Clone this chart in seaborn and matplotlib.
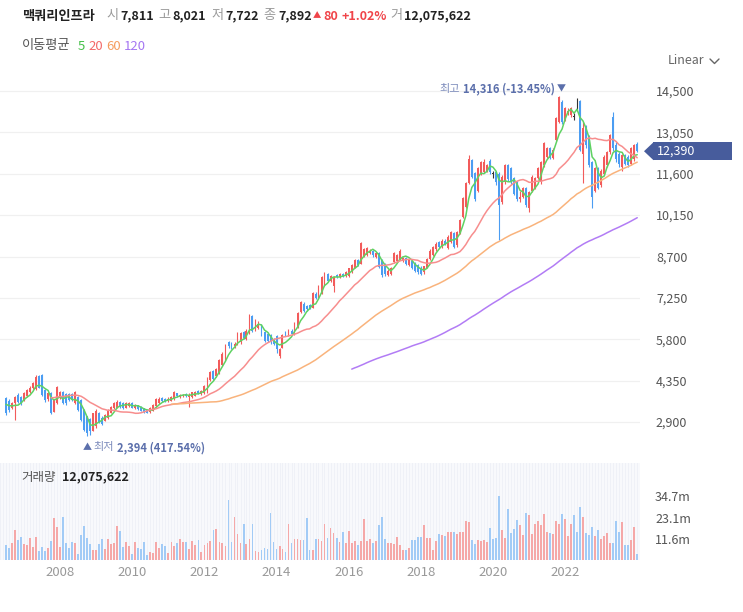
import numpy as np
import pandas as pd
import seaborn as sns
import matplotlib.pyplot as plt
import matplotlib.dates as mdates
import matplotlib.transforms as mtransforms
from matplotlib.patches import Rectangle, Polygon
from matplotlib.lines import Line2D

# monthly candles, Mar 2006 .. Jan 2024 (first four months only feed the moving averages)
opens = [
    3600, 3550, 3600, 3700, 3740, 3650, 3390, 3560, 3850, 3780,                      # 2006
    3670, 3800, 3950, 4080, 4050, 4530, 4550, 4020, 3700, 3920, 3260, 3560,          # 2007
    3750, 3950, 3880, 3880, 3880, 3560, 3780, 3670, 3320, 3100, 3000, 2600,          # 2008
    2750, 3200, 3050, 2950, 3050, 3220, 3390, 3400, 3600, 3550, 3400, 3450,          # 2009
    3550, 3400, 3480, 3420, 3380, 3330, 3250, 3300, 3450, 3550, 3740, 3720,          # 2010
    3620, 3650, 3700, 3900, 3780, 3800, 3880, 3780, 3760, 3820, 3980, 3880,          # 2011
    3900, 3950, 4370, 4700, 4500, 4620, 4900, 5070, 5700, 5650, 5550, 5650,          # 2012
    5700, 6050, 5800, 6000, 6600, 6150, 6200, 6300, 6050, 6000, 5950, 5800,          # 2013
    5900, 5200, 5500, 6050, 5950, 6100, 5980, 6230, 6750, 7050, 6950, 7000,          # 2014
    6900, 7400, 7280, 7400, 7700, 8100, 7850, 7680, 8050, 7980, 8100, 8000,          # 2015
    8000, 8150, 8290, 8580, 8450, 8700, 8750, 8820, 8900, 8700, 8820, 8580,          # 2016
    8450, 8050, 8100, 8500, 8550, 8600, 8550, 8650, 8400, 8550, 8470, 8400,          # 2017
    8300, 8150, 8300, 8600, 8750, 8950, 9200, 9050, 9250, 9000, 9200, 9520,          # 2018
    9100, 9520, 10080, 10430, 11280, 12080, 11630, 11000, 11600, 11660, 11700, 12050,  # 2019
    11600, 11650, 11600, 10600, 11300, 11900, 11800, 11450, 11300, 10700, 10800, 11100,  # 2020
    10400, 11000, 11100, 11450, 11300, 11900, 12200, 12500, 12150, 12780, 13410, 14100,  # 2021
    13500, 13700, 13650, 13600, 14100, 14150, 12300, 13200, 12900, 12000, 11000, 11800,  # 2022
    11200, 11600, 11900, 12350, 13600, 12600, 12300, 11850, 12250, 12200, 11950, 12100,  # 2023
    12650,                                                                            # 2024
]
highs = [
    3700, 3700, 3800, 3750, 3760, 3700, 3600, 3800, 3900, 3800,
    3960, 4060, 4150, 4300, 4550, 4560, 4580, 4050, 3950, 3950, 3700, 4150,
    3990, 3980, 3900, 3920, 3900, 3980, 3800, 3700, 3350, 3120, 3050, 3230,
    3350, 3250, 3100, 3180, 3350, 3450, 3600, 3680, 3650, 3600, 3600, 3600,
    3600, 3520, 3500, 3450, 3400, 3350, 3420, 3520, 3750, 3760, 3770, 3750,
    3760, 3800, 3980, 3930, 3880, 3880, 3900, 3900, 3960, 3980, 4010, 4030,
    4200, 4460, 4700, 4720, 4800, 5100, 5350, 5650, 5750, 5700, 5700, 6050,
    6050, 6080, 6150, 6700, 6650, 6500, 6450, 6350, 6100, 6050, 6000, 5850,
    5950, 5500, 6000, 6100, 6150, 6150, 6400, 6750, 7150, 7100, 7000, 7050,
    7450, 7450, 7700, 8000, 8150, 8120, 8050, 8000, 8080, 8120, 8130, 8200,
    8300, 8450, 8600, 8620, 9200, 9000, 9050, 8950, 8930, 8850, 8850, 8600,
    8480, 8250, 8330, 8850, 8800, 8950, 8700, 8700, 8600, 8580, 8500, 8450,
    8350, 8380, 8650, 8950, 9080, 9200, 9250, 9300, 9300, 9450, 9600, 9550,
    9600, 10000, 10800, 11300, 12260, 12100, 11650, 11850, 12050, 12100, 11950, 12100,
    11700, 11700, 11650, 11560, 11950, 11950, 11850, 11500, 11350, 11000, 11150, 11150,
    11000, 11550, 11500, 11850, 12050, 12700, 12550, 12550, 12500, 13600, 14316, 14200,
    13950, 13900, 13950, 13730, 14250, 14200, 13400, 13300, 12950, 12050, 11850, 11850,
    11750, 12250, 12400, 13000, 13760, 12700, 12350, 12300, 12300, 12250, 12550, 12650,
    12700,
]
lows = [
    3450, 3450, 3500, 3450, 3150, 3250, 3350, 2970, 3550, 3500,
    3640, 3760, 3900, 4050, 4020, 4080, 3820, 3600, 3650, 3180, 3240, 3540,
    3700, 3540, 3500, 3650, 3640, 3520, 3300, 2940, 2600, 2394, 2450, 2580,
    2700, 2880, 2800, 2930, 3020, 3200, 3370, 3380, 3400, 3350, 3380, 3420,
    3380, 3370, 3320, 3280, 3200, 3200, 3230, 3280, 3420, 3520, 3590, 3600,
    3600, 3620, 3670, 3780, 3750, 3770, 3770, 3420, 3740, 3800, 3870, 3860,
    3880, 3930, 4350, 4380, 4480, 4600, 4880, 5050, 5500, 5450, 5500, 5600,
    5650, 5800, 5780, 5980, 6050, 6100, 6150, 5900, 5700, 5700, 5650, 5600,
    5320, 5150, 5480, 5900, 5920, 5950, 5960, 6200, 6720, 6750, 6800, 6850,
    6880, 7200, 7250, 7380, 7680, 7800, 7820, 7450, 7950, 7960, 7980, 7980,
    7980, 8120, 8280, 8380, 8430, 8680, 8720, 8800, 8700, 8650, 8300, 7980,
    8000, 8000, 8050, 8480, 8500, 8580, 8500, 8400, 8380, 8250, 8150, 8100,
    8050, 8100, 8280, 8580, 8720, 8900, 9000, 9000, 9100, 8950, 9180, 9000,
    9050, 9500, 10050, 10400, 11250, 11450, 10650, 10950, 11550, 11620, 11650, 11600,
    11450, 11200, 9280, 10550, 11250, 11350, 11250, 10850, 10650, 10600, 10750, 10450,
    10260, 10950, 11050, 11400, 11250, 11850, 12150, 12100, 12100, 12750, 13380, 13350,
    13450, 13650, 13600, 13480, 13800, 12400, 11280, 12500, 11850, 10400, 10950, 11050,
    11150, 11550, 11850, 12300, 12400, 12000, 11850, 11700, 11900, 11850, 11900, 12050,
    12350,
]
closes = [
    3550, 3600, 3700, 3550, 3200, 3320, 3560, 3780, 3600, 3560,
    3920, 4020, 4100, 4250, 4480, 4100, 3850, 3680, 3920, 3220, 3680, 4130,
    3950, 3570, 3560, 3680, 3670, 3950, 3320, 2970, 2620, 2500, 2600, 3210,
    3300, 2900, 2830, 3150, 3300, 3420, 3560, 3600, 3450, 3400, 3550, 3550,
    3400, 3480, 3350, 3300, 3250, 3230, 3400, 3500, 3700, 3720, 3620, 3640,
    3720, 3780, 3950, 3800, 3850, 3860, 3800, 3860, 3940, 3950, 3900, 4000,
    4150, 4440, 4650, 4420, 4750, 5070, 5300, 5600, 5550, 5500, 5650, 6000,
    6020, 5850, 6100, 6650, 6100, 6450, 6350, 5950, 5750, 5750, 5700, 5650,
    5450, 5450, 5950, 5950, 6100, 5980, 6350, 6720, 7100, 6800, 6850, 6880,
    7420, 7250, 7650, 7980, 8100, 7850, 8000, 7980, 7980, 8100, 8000, 8150,
    8290, 8400, 8580, 8400, 9170, 8950, 9000, 8900, 8750, 8820, 8330, 8050,
    8100, 8200, 8300, 8820, 8750, 8900, 8650, 8450, 8580, 8300, 8200, 8150,
    8100, 8350, 8600, 8900, 9030, 9150, 9050, 9250, 9150, 9400, 9550, 9050,
    9550, 9980, 10750, 11280, 12100, 11500, 10700, 11800, 12000, 12010, 11900, 11650,
    11600, 11300, 10500, 11500, 11900, 11400, 11300, 10900, 10700, 10800, 11100, 10500,
    10950, 11500, 11450, 11800, 12000, 12680, 12500, 12150, 12450, 13550, 14290, 13400,
    13900, 13800, 13900, 13600, 14100, 12450, 13200, 12600, 11900, 10800, 11800, 11100,
    11700, 12200, 12350, 12950, 12500, 12100, 11950, 12250, 11950, 11900, 12500, 12600,
    12390,
]
# volume in millions of shares
volumes = [
    9.0, 8.0, 7.0, 8.0, 8.3, 6.4, 9.4, 16.3, 11.1, 12.3,
    8.7, 8.3, 11.8, 7.1, 12.3, 4.7, 7.3, 4.7, 6.4, 10.5, 22.7, 18.2,
    7.1, 23.6, 9.4, 6.5, 9.6, 9.3, 3.4, 13.4, 18.7, 12.2, 8.7, 5.4,
    5.6, 8.9, 11.6, 5.8, 11.4, 8.7, 9.0, 18.7, 15.8, 7.1, 10.0, 7.6,
    3.1, 10.0, 6.4, 5.8, 10.0, 2.9, 4.5, 3.6, 10.0, 6.5, 8.7, 7.6,
    4.0, 10.0, 7.8, 9.4, 11.6, 10.0, 10.0, 5.8, 10.5, 8.3, 11.1, 4.2,
    8.3, 9.1, 10.5, 16.3, 16.9, 9.6, 9.3, 7.6, 32.7, 10.0, 23.4, 14.2,
    9.4, 19.4, 8.7, 11.6, 19.8, 4.7, 4.2, 5.4, 6.5, 6.0, 25.6, 10.0,
    6.2, 7.6, 5.8, 4.5, 19.8, 9.4, 11.6, 11.6, 11.1, 11.1, 22.9, 5.4,
    5.4, 11.6, 11.6, 10.5, 19.8, 12.0, 17.2, 14.8, 12.2, 9.9, 15.5, 9.0,
    15.9, 9.5, 10.5, 8.0, 10.2, 22.3, 10.2, 11.3, 9.0, 10.5, 19.0, 23.6,
    11.3, 9.0, 9.0, 8.5, 12.6, 8.0, 5.7, 5.7, 6.8, 10.8, 10.8, 12.6,
    12.6, 18.8, 12.0, 12.0, 5.7, 10.2, 14.0, 13.6, 13.2, 15.5, 15.5, 15.5,
    14.0, 15.2, 15.4, 21.4, 20.8, 11.0, 8.6, 11.0, 10.6, 11.0, 10.0, 17.2,
    11.5, 11.8, 34.9, 16.3, 11.9, 27.8, 14.8, 16.8, 21.7, 19.2, 13.8, 25.4,
    24.3, 14.0, 19.5, 21.2, 19.0, 24.8, 15.3, 14.9, 14.1, 21.4, 19.5, 24.8,
    22.5, 13.3, 19.5, 24.5, 15.3, 28.9, 23.6, 14.8, 13.7, 17.7, 13.3, 16.3,
    11.5, 13.3, 14.8, 9.3, 9.3, 21.4, 15.5, 20.6, 7.9, 7.9, 10.8, 17.9,
    3.3,
]

ma_periods = [5, 20, 60, 120]
ma_colors = ['#5fd262', '#f78e8e', '#f9b37c', '#b27cf5']
legend_colors = ['#46c049', '#f36a6a', '#f59c5e', '#a577f2']
price_ticks = [2900, 4350, 5800, 7250, 8700, 10150, 11600, 13050, 14500]
vol_ticks = [11.6, 23.1, 34.7]
year_ticks = [2008, 2010, 2012, 2014, 2016, 2018, 2020, 2022]
header = [('시', '7,811'), ('고', '8,021'), ('저', '7,722'), ('종', '7,892')]
change = ('80', '+1.02%')
day_volume = '12,075,622'

dates = pd.date_range('2006-03-01', periods=len(closes), freq='MS')
df = pd.DataFrame({'date': dates, 'open': opens, 'high': highs, 'low': lows,
                   'close': closes, 'volume': volumes})
df['x'] = mdates.date2num(df['date'])
for n in ma_periods:
    df[f'ma{n}'] = df['close'].rolling(n).mean()

sns.set_style('white')
plt.rcParams['font.family'] = ['Noto Sans CJK KR', 'DejaVu Sans']

W, H = 743, 612
def fx(x): return x / W
def fy(y): return 1 - y / H

fig = plt.figure(figsize=(7.43, 6.12), dpi=100)
ax = fig.add_axes([0, fy(455), fx(640), (455 - 75) / H])
axv = fig.add_axes([0, fy(560), fx(640), (560 - 463) / H], sharex=ax)
renderer = fig.canvas.get_renderer()

shown = df.iloc[4:]
up = shown['close'] > shown['open']
down = shown['close'] < shown['open']
cand_col = np.where(up, '#f25b5b', np.where(down, '#4b9df2', '#333333'))
vol_col = np.where(up, '#f5a8a8', np.where(down, '#a2cbf6', '#a2cbf6'))

# candles
ax.vlines(shown['x'], shown['low'], shown['high'], colors=cand_col, lw=0.8, zorder=2)
body = (shown['close'] - shown['open']).abs().clip(lower=30)
ax.bar(shown['x'], body, bottom=np.minimum(shown['open'], shown['close']),
       width=19, color=cand_col, linewidth=0, zorder=2)

# moving averages
for n, c in zip(ma_periods, ma_colors):
    sns.lineplot(data=df, x='x', y=f'ma{n}', ax=ax, color=c, lw=1.1, zorder=3)

ax.set_xlim(mdates.date2num(pd.Timestamp('2006-05-02')), mdates.date2num(pd.Timestamp('2024-01-29')))
ax.set_ylim(1744, 15061)
ax.set_yticks(price_ticks)
ax.set_yticklabels([f'{v:,}' for v in price_ticks])
ax.yaxis.tick_right()
ax.tick_params(axis='y', length=0, pad=11.5, labelsize=9, labelcolor='#555555')
ax.tick_params(axis='x', bottom=False, labelbottom=False)
ax.grid(axis='y', color='#f0f0f0', lw=0.9)
ax.set_xlabel('')
ax.set_ylabel('')
sns.despine(ax=ax, left=True, bottom=True, right=True, top=True)

# high / low markers
last = closes[-1]
imax = df['high'].idxmax()
imin = df['low'].idxmin()
hi, lo = df.loc[imax, 'high'], df.loc[imin, 'low']
mark_col = '#5b6fab'
kw = dict(textcoords='offset pixels', va='center', color=mark_col, fontsize=8)
xy = (df.loc[imax, 'x'], hi)
ax.annotate('▼', xy=xy, xytext=(2, 7), ha='center', **{**kw, 'fontsize': 6.5})
t = ax.annotate(f'{hi:,} ({(last / hi - 1) * 100:.2f}%)', xy=xy, xytext=(-4, 7), ha='right',
                weight='bold', **kw)
w = t.get_window_extent(renderer).width
ax.annotate('최고', xy=xy, xytext=(-4 - w - 3, 7), ha='right', **{**kw, 'color': '#7d8cbc'})
xy = (df.loc[imin, 'x'], lo)
ax.annotate('▲', xy=xy, xytext=(0, -11), ha='center', **{**kw, 'fontsize': 6.5})
t = ax.annotate('최저', xy=xy, xytext=(6, -11), ha='left', **{**kw, 'color': '#7d8cbc'})
w = t.get_window_extent(renderer).width
ax.annotate(f'{lo:,} ({(last / lo - 1) * 100:.2f}%)', xy=xy, xytext=(6 + w + 3, -11), ha='left',
            weight='bold', **kw)

# current price tag
trans = mtransforms.blended_transform_factory(fig.transFigure, ax.transData)
half = 9 * (15061 - 1744) / 380
ax.add_patch(Rectangle((fx(653), last - half), fx(732) - fx(653), 2 * half, transform=trans,
                       fc='#475c9c', ec='none', clip_on=False))
ax.add_patch(Polygon([(fx(644), last), (fx(653.5), last + half), (fx(653.5), last - half)],
                     closed=True, transform=trans, fc='#475c9c', ec='none', clip_on=False))
ax.text(fx(657), last, f'{last:,}', transform=trans, color='white', fontsize=9,
        va='center', ha='left')

# volume panel
axv.set_facecolor('#f8f9fc')
axv.vlines(df['x'], 0, 60, colors='#eef0f7', lw=0.6, zorder=0)
axv.bar(shown['x'], shown['volume'], width=18, color=vol_col, linewidth=0, zorder=2)
axv.set_ylim(0, 52.8)
axv.set_yticks(vol_ticks)
axv.set_yticklabels([f'{v}m' for v in vol_ticks])
axv.yaxis.tick_right()
axv.tick_params(axis='y', length=0, pad=10.8, labelsize=9, labelcolor='#555555')
axv.set_xticks([mdates.date2num(pd.Timestamp(f'{y}-01-01')) for y in year_ticks])
axv.set_xticklabels([str(y) for y in year_ticks])
axv.tick_params(axis='x', length=0, pad=4, labelsize=9.5, labelcolor='#999999')
for s in axv.spines.values():
    s.set_visible(False)
axv.text(fx(21), fy(477), '거래량', transform=fig.transFigure, fontsize=9, color='#555555', va='center')
axv.text(fx(62), fy(477), day_volume, transform=fig.transFigure, fontsize=9, color='#222222',
         weight='bold', va='center')

# header
fig.text(fx(22), fy(16), '맥쿼리인프라', fontsize=9.5, weight='bold', color='#222222', va='center')
for (lab, val), xl, xv in zip(header, [106, 158, 211, 263], [120, 172, 225, 278]):
    fig.text(fx(xl), fy(16), lab, fontsize=9.5, color='#9a9a9a', va='center')
    fig.text(fx(xv), fy(16), val, fontsize=9, weight='bold', color='#222222', va='center')
fig.text(fx(313), fy(16), '▲', fontsize=6, color='#f0454a', va='center')
fig.text(fx(323), fy(16), change[0], fontsize=9, weight='bold', color='#f0454a', va='center')
fig.text(fx(342), fy(16), change[1], fontsize=9, weight='bold', color='#f0454a', va='center')
fig.text(fx(390), fy(16), '거', fontsize=9.5, color='#9a9a9a', va='center')
fig.text(fx(404), fy(16), day_volume, fontsize=9, weight='bold', color='#222222', va='center')

fig.text(fx(22), fy(46), '이동평균', fontsize=9.5, color='#555555', va='center')
for n, c, xl in zip(ma_periods, legend_colors, [78, 88, 106, 124]):
    fig.text(fx(xl), fy(46), str(n), fontsize=9.5, color=c, va='center')

fig.text(fx(668), fy(61), 'Linear', fontsize=9, color='#666666', va='center')
fig.add_artist(Line2D([fx(710), fx(714.5), fx(719)], [fy(59), fy(63.5), fy(59)],
                      transform=fig.transFigure, color='#666666', lw=1))

fig.savefig('out.png', dpi=100)
